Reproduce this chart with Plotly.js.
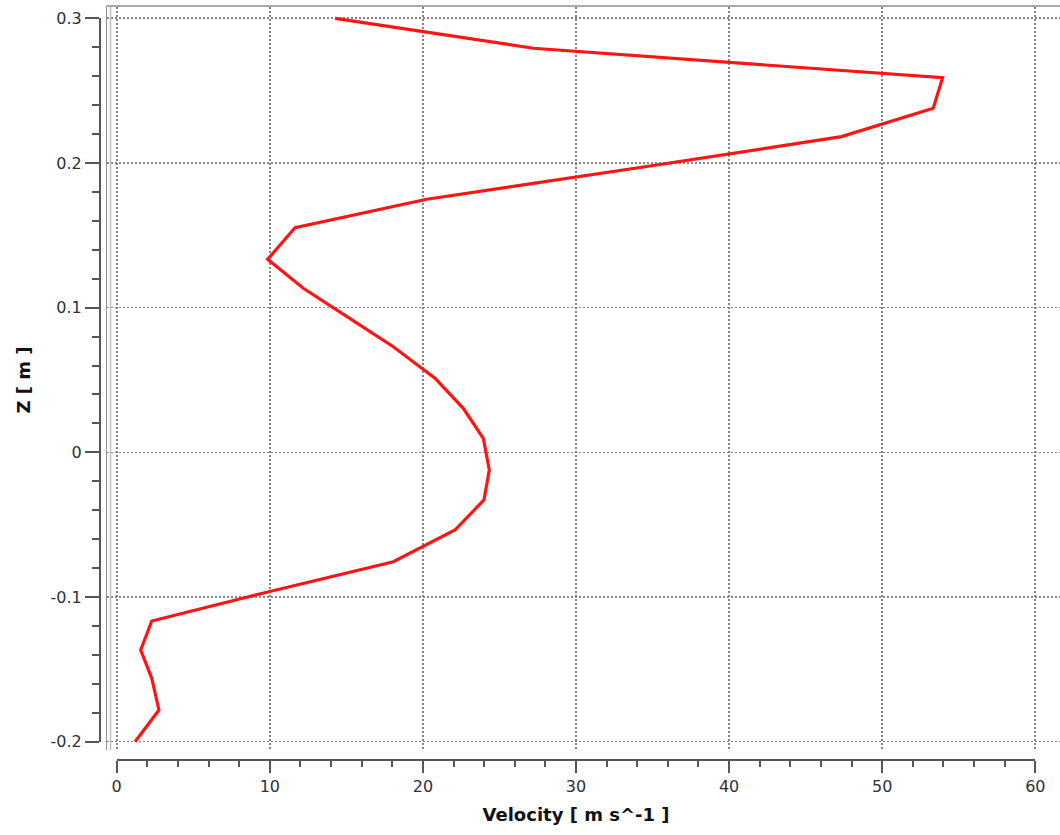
<!DOCTYPE html>
<html>
<head>
<meta charset="utf-8">
<script src="https://cdn.plot.ly/plotly-3.0.1.min.js"></script>
<style>html,body{margin:0;padding:0;background:#fff;}#chart{width:1060px;height:835px;}</style>
</head>
<body>
<div id="chart"></div>
<script>
// Data
const velocity = [14.26, 27.21, 53.95, 53.34, 47.35, 34.83, 20.25, 11.65, 9.86, 12.19, 15.17, 18.07, 20.79, 22.64, 23.95, 24.34, 23.99, 22.10, 18.07, 10.14, 2.29, 1.57, 2.29, 2.76, 1.20];
const zValues = [0.300, 0.2793, 0.2589, 0.2378, 0.2182, 0.1979, 0.1749, 0.1553, 0.1334, 0.1134, 0.0929, 0.0730, 0.0512, 0.0304, 0.0097, -0.0122, -0.0329, -0.0537, -0.0756, -0.0958, -0.1166, -0.1366, -0.1562, -0.1781, -0.200];
const xTickVals = [0, 10, 20, 30, 40, 50, 60];
const xTickText = ['0', '10', '20', '30', '40', '50', '60'];
const yTickVals = [-0.2, -0.1, 0, 0.1, 0.2, 0.3];
const yTickText = ['-0.2', '-0.1', '0', '0.1', '0.2', '0.3'];
const xTitle = 'Velocity [ m s^-1 ]';
const yTitle = 'Z [ m ]';

const FONT = 'DejaVu Sans, Verdana, sans-serif';

const traces = [
  {
    x: velocity, y: zValues, xaxis: 'x', yaxis: 'y',
    type: 'scatter', mode: 'lines',
    line: {color: 'rgb(255,20,20)', width: 3.2},
    hoverinfo: 'skip', showlegend: false
  },
  {
    x: velocity, y: zValues, xaxis: 'x2', yaxis: 'y2',
    type: 'scatter', mode: 'lines',
    line: {color: 'rgba(0,0,0,0)', width: 0},
    hoverinfo: 'skip', showlegend: false
  }
];

const gridStyle = {showgrid: true, gridcolor: '#858585', gridwidth: 1.6, griddash: '2px,2px'};

const layout = {
  width: 1060, height: 835,
  margin: {l: 60, r: 0, t: 0, b: 60},
  paper_bgcolor: '#ffffff',
  plot_bgcolor: 'rgba(0,0,0,0)',
  showlegend: false,
  font: {family: FONT, color: '#333'},
  xaxis: Object.assign({
    domain: [0.047, 1],
    range: [-0.634, 61.62],
    tickmode: 'array', tickvals: xTickVals,
    showticklabels: false, ticks: '',
    zeroline: false,
    side: 'top', showline: true, linecolor: '#a8a8a8', linewidth: 2
  }, gridStyle),
  yaxis: Object.assign({
    domain: [0.03226, 0.99097],
    range: [-0.20574, 0.30781],
    tickmode: 'array', tickvals: yTickVals,
    showticklabels: false, ticks: '',
    zeroline: false,
    showline: true, linecolor: '#8c8c8c', linewidth: 1.5
  }, gridStyle),
  xaxis2: {
    domain: [0.0567, 0.9753],
    range: [0, 60],
    anchor: 'free', position: 0.01935,
    showgrid: false, zeroline: false,
    showline: true, linecolor: '#555', linewidth: 2,
    tickmode: 'array', tickvals: xTickVals, ticktext: xTickText,
    ticks: 'outside', ticklen: 12, tickwidth: 2, tickcolor: '#555',
    minor: {tickmode: 'linear', tick0: 0, dtick: 2, ticks: 'outside', ticklen: 6, tickwidth: 2, tickcolor: '#555', showgrid: false},
    tickfont: {family: FONT, size: 16, color: '#2e2e3e'},
    title: {text: xTitle, font: {family: FONT, size: 18, color: '#111', weight: 'bold'}, standoff: 12}
  },
  yaxis2: {
    domain: [0.04297, 0.97639],
    range: [-0.2, 0.3],
    anchor: 'free', position: 0.04,
    showgrid: false, zeroline: false,
    showline: true, linecolor: '#555', linewidth: 2,
    tickmode: 'array', tickvals: yTickVals, ticktext: yTickText,
    ticks: 'outside', ticklen: 14, tickwidth: 2, tickcolor: '#555',
    minor: {tickmode: 'linear', tick0: 0, dtick: 0.02, ticks: 'outside', ticklen: 7, tickwidth: 2, tickcolor: '#555', showgrid: false},
    tickfont: {family: FONT, size: 16, color: '#2e2e3e'},
    title: {text: yTitle, font: {family: FONT, size: 18, color: '#111', weight: 'bold'}, standoff: 14}
  },
  shapes: [
    {type: 'line', xref: 'paper', yref: 'paper', x0: 0.0505, x1: 0.0505, y0: 0.03226, y1: 0.99097,
     line: {color: '#bdbdbd', width: 1.5}, layer: 'above'}
  ]
};

Plotly.newPlot('chart', traces, layout, {displayModeBar: false, staticPlot: true});
</script>
</body>
</html>
